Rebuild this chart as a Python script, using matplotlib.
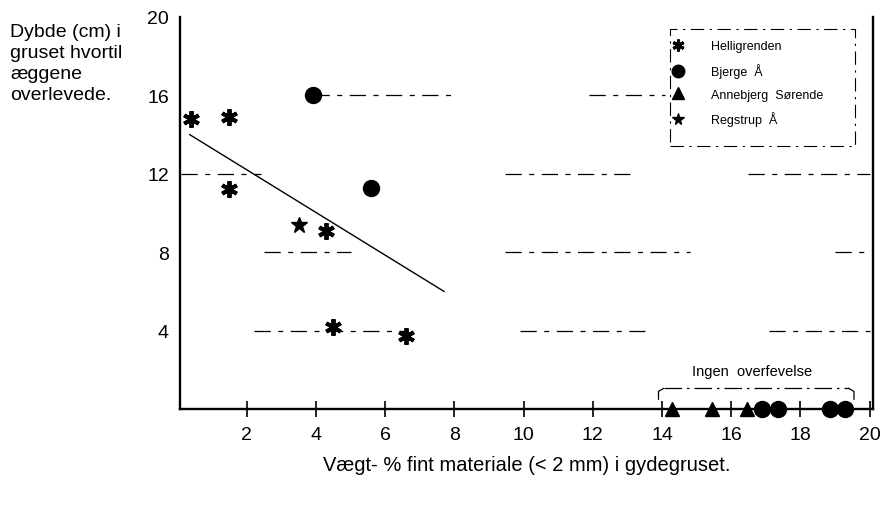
import matplotlib
matplotlib.use("Agg")
import matplotlib.pyplot as plt
from matplotlib.lines import Line2D
from matplotlib.patches import Rectangle

plt.rcParams['font.family'] = ['Liberation Sans', 'DejaVu Sans']

# Survival depth (cm) versus weight-% fine material
helligrenden_x = [0.4, 1.5, 1.5, 4.3, 4.5, 6.6]
helligrenden_y = [14.8, 14.9, 11.2, 9.1, 4.2, 3.7]
bjerge_x = [3.9, 5.6, 16.9, 17.35, 18.85, 19.3]
bjerge_y = [16.0, 11.3, 0.0, 0.0, 0.0, 0.0]
annebjerg_x = [14.3, 15.45, 16.45]
annebjerg_y = [0.0, 0.0, 0.0]
regstrup_x = [3.5]
regstrup_y = [9.4]

# Fitted line through the surviving samples
fit_x = [0.35, 7.7]
fit_y = [14.0, 6.0]

# Broken horizontal reference lines: (depth, [(x_start, x_end), ...])
ref_lines = [
    (16, [(3.9, 7.9), (11.9, 14.1)]),
    (12, [(0.1, 2.4), (9.45, 13.15), (16.5, 20.0)]),
    (8, [(2.5, 5.0), (9.45, 14.8), (19.0, 20.0)]),
    (4, [(2.2, 6.6), (9.9, 13.7), (17.1, 20.0)]),
]

x_ticks = [2, 4, 6, 8, 10, 12, 14, 16, 18, 20]
y_ticks = [4, 8, 12, 16, 20]

fig = plt.figure(figsize=(8.89, 5.06), dpi=100)
ax = fig.add_axes([180/889, 1 - 410/506, 693/889, 392/506])
ax.set_xlim(0.07, 20.1)
ax.set_ylim(0, 20)

for yv, segs in ref_lines:
    for x0, x1 in segs:
        ax.plot([x0, x1], [yv, yv], color='black', lw=0.9,
                linestyle=(0, (13, 6, 4, 6)), zorder=1)

ax.plot(fit_x, fit_y, color='black', lw=1.0, zorder=2)

ms_ast = dict(marker=(6, 2, 0), markersize=12, markeredgewidth=2.8,
              color='black', linestyle='none')
ax.plot(helligrenden_x, helligrenden_y, **ms_ast, zorder=3, clip_on=False)
ax.plot(bjerge_x, bjerge_y, marker='o', markersize=11.5, color='black',
        linestyle='none', zorder=3, clip_on=False)
ax.plot(annebjerg_x, annebjerg_y, marker='^', markersize=10, color='black',
        linestyle='none', zorder=3, clip_on=False)
ax.plot(regstrup_x, regstrup_y, marker='*', markersize=12, color='black',
        linestyle='none', zorder=3, clip_on=False)

# Bracket over the samples without survival
bx0, bx1, by_top, by_bot = 13.9, 19.55, 1.05, 0.5
ax.plot([bx0, bx0, bx0 + 0.15], [by_bot, by_top - 0.15, by_top],
        color='black', lw=0.9)
ax.plot([bx0 + 0.15, bx1 - 0.15], [by_top, by_top], color='black', lw=0.9,
        linestyle=(0, (14, 4, 2, 4)))
ax.plot([bx1 - 0.15, bx1, bx1], [by_top, by_top - 0.15, by_bot],
        color='black', lw=0.9)
ax.text(16.6, 1.95, 'Ingen  overfevelse', ha='center', va='center',
        fontsize=10.5)

ax.spines['top'].set_visible(False)
for side in ['left', 'bottom', 'right']:
    ax.spines[side].set_linewidth(1.7)

ax.set_xticks(x_ticks)
ax.set_yticks(y_ticks)
ax.set_xticklabels([str(v) for v in x_ticks])
ax.set_yticklabels([str(v) for v in y_ticks])
ax.tick_params(axis='x', direction='inout', length=11, width=1.2,
               labelsize=14, pad=7)
ax.tick_params(axis='y', direction='in', length=0, labelsize=14, pad=8)

handles = [
    Line2D([], [], marker=(6, 2, 0), markersize=8.5, markeredgewidth=2.2,
           color='black', linestyle='none', label='Helligrenden'),
    Line2D([], [], marker='o', markersize=9, color='black', linestyle='none',
           label='Bjerge  Å'),
    Line2D([], [], marker='^', markersize=8.5, color='black', linestyle='none',
           label='Annebjerg  Sørende'),
    Line2D([], [], marker='*', markersize=8.5, color='black', linestyle='none',
           label='Regstrup  Å'),
]
leg = ax.legend(handles=handles, loc='upper left',
                bbox_to_anchor=(0.691, 0.972), fontsize=9, frameon=False,
                handletextpad=2.2, borderpad=0.5, labelspacing=0.85,
                handlelength=1.0)

# Broken legend frame
frame = Rectangle((670/889, 1 - 147/506), 185/889, 117/506,
                  transform=fig.transFigure, fill=False, edgecolor='black',
                  lw=0.8, linestyle=(0, (12, 5, 2, 5)))
fig.add_artist(frame)

fig.text(10/889, 1 - 24/506, 'Dybde (cm) i\ngruset hvortil\næggene\noverlevede.',
         ha='left', va='top', fontsize=14, linespacing=1.32)
fig.text(527/889, 1 - 466/506,
         'Vægt- % fint materiale (< 2 mm) i gydegruset.',
         ha='center', va='center', fontsize=14.5)

fig.savefig('out.png', dpi=100)
